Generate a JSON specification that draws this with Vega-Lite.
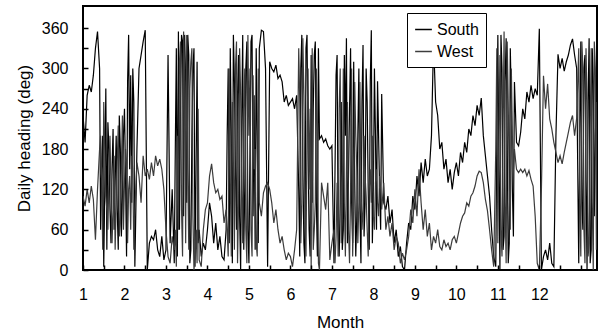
{
"$schema": "https://vega.github.io/schema/vega-lite/v6.json",
"width": 514, "height": 264,
"autosize": "none",
"padding": {"left": 83, "top": 6, "right": 3, "bottom": 66},
"background": "white",
"config": {"view": {"stroke": "black", "strokeWidth": 2}, "font": "Liberation Sans"},
"data": {"values": [
{"m":1.00,"South":230,"West":110},{"m":1.05,"South":190,"West":95},{"m":1.10,"South":260,"West":120},{"m":1.15,"South":275,"West":100},{"m":1.20,"South":265,"West":125},{"m":1.25,"South":290,"West":105},{"m":1.30,"South":330,"West":45},{"m":1.35,"South":355,"West":120},{"m":1.40,"South":300,"West":180},{"m":1.45,"South":150,"West":140},
{"m":1.50,"South":5,"West":250},{"m":1.55,"South":270,"West":110},{"m":1.60,"South":220,"West":60},{"m":1.65,"South":90,"West":200},{"m":1.70,"South":150,"West":40},{"m":1.75,"South":60,"West":170},{"m":1.80,"South":200,"West":100},{"m":1.85,"South":30,"West":215},{"m":1.90,"South":180,"West":70},{"m":1.95,"South":110,"West":230},
{"m":1.425,"South":60,"West":200},{"m":1.475,"South":200,"West":30},{"m":1.525,"South":120,"West":180},{"m":1.575,"South":30,"West":90},{"m":1.625,"South":180,"West":140},{"m":1.675,"South":40,"West":120},{"m":1.725,"South":210,"West":90},{"m":1.775,"South":130,"West":30},{"m":1.825,"South":90,"West":160},{"m":1.875,"South":230,"West":50},{"m":1.925,"South":50,"West":150},{"m":1.975,"South":200,"West":60},{"m":2.025,"South":140,"West":180},{"m":2.075,"South":280,"West":40},{"m":2.125,"South":150,"West":140},{"m":2.175,"South":100,"West":170},{"m":2.225,"South":250,"West":30},
{"m":2.00,"South":240,"West":130},{"m":2.05,"South":20,"West":160},{"m":2.10,"South":350,"West":120},{"m":2.15,"South":290,"West":60},{"m":2.20,"South":300,"West":150},{"m":2.25,"South":5,"West":90},{"m":2.30,"South":180,"West":160},{"m":2.35,"South":300,"West":140},{"m":2.40,"South":320,"West":100},{"m":2.45,"South":340,"West":170},
{"m":2.50,"South":357,"West":140},{"m":2.55,"South":0,"West":150},{"m":2.60,"South":40,"West":135},{"m":2.65,"South":50,"West":160},{"m":2.70,"South":45,"West":140},{"m":2.75,"South":60,"West":170},{"m":2.80,"South":30,"West":155},{"m":2.85,"South":20,"West":165},{"m":2.90,"South":50,"West":150},{"m":2.95,"South":15,"West":120},
{"m":3.00,"South":30,"West":60},{"m":3.05,"South":320,"West":20},{"m":3.10,"South":40,"West":10},{"m":3.15,"South":120,"West":50},{"m":3.20,"South":10,"West":30},{"m":3.25,"South":330,"West":5},{"m":3.30,"South":355,"West":60},{"m":3.35,"South":250,"West":340},{"m":3.40,"South":340,"West":20},{"m":3.45,"South":350,"West":300},
{"m":3.50,"South":100,"West":350},{"m":3.55,"South":320,"West":30},{"m":3.60,"South":30,"West":310},{"m":3.65,"South":300,"West":80},{"m":3.70,"South":5,"West":20},{"m":3.75,"South":310,"West":10},{"m":3.80,"South":60,"West":15},{"m":3.85,"South":20,"West":5},{"m":3.90,"South":40,"West":60},{"m":3.95,"South":30,"West":90},
{"m":3.225,"South":180,"West":60},{"m":3.275,"South":20,"West":200},{"m":3.325,"South":60,"West":310},{"m":3.375,"South":350,"West":90},{"m":3.425,"South":80,"West":355},{"m":3.475,"South":280,"West":40},{"m":3.525,"South":350,"West":150},{"m":3.575,"South":10,"West":270},{"m":3.625,"South":200,"West":330},{"m":3.675,"South":330,"West":0},{"m":3.725,"South":150,"West":60},{"m":3.775,"South":40,"West":240},
{"m":4.00,"South":60,"West":100},{"m":4.05,"South":100,"West":140},{"m":4.10,"South":80,"West":158},{"m":4.15,"South":40,"West":130},{"m":4.20,"South":70,"West":115},{"m":4.25,"South":30,"West":120},{"m":4.30,"South":50,"West":105},{"m":4.35,"South":20,"West":110},{"m":4.40,"South":15,"West":70},{"m":4.45,"South":60,"West":90},
{"m":4.50,"South":300,"West":20},{"m":4.55,"South":330,"West":140},{"m":4.60,"South":10,"West":250},{"m":4.65,"South":280,"West":30},{"m":4.70,"South":60,"West":340},{"m":4.75,"South":320,"West":100},{"m":4.80,"South":0,"West":260},{"m":4.85,"South":350,"West":40},{"m":4.90,"South":120,"West":300},{"m":4.95,"South":340,"West":10},
{"m":4.475,"South":200,"West":60},{"m":4.525,"South":40,"West":300},{"m":4.575,"South":200,"West":20},{"m":4.625,"South":350,"West":160},{"m":4.675,"South":150,"West":300},{"m":4.725,"South":260,"West":10},{"m":4.775,"South":80,"West":330},{"m":4.825,"South":220,"West":120},{"m":4.875,"South":30,"West":240},{"m":4.925,"South":300,"West":60},{"m":4.975,"South":60,"West":350},{"m":5.025,"South":180,"West":300},{"m":5.075,"South":350,"West":20},{"m":5.125,"South":260,"West":150},{"m":5.175,"South":330,"West":40},{"m":5.225,"South":40,"West":300},
{"m":5.00,"South":10,"West":200},{"m":5.05,"South":340,"West":60},{"m":5.10,"South":80,"West":290},{"m":5.15,"South":30,"West":180},{"m":5.20,"South":200,"West":20},{"m":5.25,"South":330,"West":100},{"m":5.30,"South":357,"West":80},{"m":5.35,"South":355,"West":115},{"m":5.40,"South":300,"West":125},{"m":5.45,"South":5,"West":130},
{"m":5.50,"South":310,"West":120},{"m":5.55,"South":300,"West":100},{"m":5.60,"South":295,"West":70},{"m":5.65,"South":305,"West":90},{"m":5.70,"South":285,"West":60},{"m":5.75,"South":290,"West":40},{"m":5.80,"South":280,"West":50},{"m":5.85,"South":250,"West":30},{"m":5.90,"South":260,"West":15},{"m":5.95,"South":245,"West":25},
{"m":6.00,"South":250,"West":20},{"m":6.05,"South":255,"West":5},{"m":6.10,"South":240,"West":30},{"m":6.15,"South":260,"West":60},{"m":6.20,"South":120,"West":330},{"m":6.25,"South":300,"West":40},{"m":6.30,"South":150,"West":345},{"m":6.35,"South":10,"West":80},{"m":6.40,"South":350,"West":200},{"m":6.45,"South":60,"West":120},
{"m":6.225,"South":20,"West":250},{"m":6.275,"South":350,"West":100},{"m":6.325,"South":40,"West":260},{"m":6.375,"South":330,"West":20},{"m":6.425,"South":180,"West":300},{"m":6.475,"South":20,"West":240},{"m":6.525,"South":100,"West":330},{"m":6.575,"South":320,"West":60},{"m":6.625,"South":100,"West":300},{"m":6.675,"South":330,"West":10},
{"m":6.50,"South":320,"West":0},{"m":6.55,"South":240,"West":30},{"m":6.60,"South":340,"West":100},{"m":6.65,"South":20,"West":200},{"m":6.70,"South":195,"West":0},{"m":6.75,"South":200,"West":130},{"m":6.80,"South":190,"West":110},{"m":6.85,"South":195,"West":90},{"m":6.90,"South":185,"West":130},{"m":6.95,"South":180,"West":15},
{"m":7.00,"South":185,"West":40},{"m":7.05,"South":10,"West":60},{"m":7.10,"South":290,"West":50},{"m":7.15,"South":60,"West":20},{"m":7.20,"South":100,"West":300},{"m":7.25,"South":30,"West":80},{"m":7.30,"South":320,"West":100},{"m":7.35,"South":345,"West":150},{"m":7.40,"South":140,"West":60},{"m":7.45,"South":330,"West":120},
{"m":7.075,"South":150,"West":10},{"m":7.125,"South":320,"West":130},{"m":7.175,"South":20,"West":240},{"m":7.225,"South":250,"West":40},{"m":7.275,"South":60,"West":300},{"m":7.325,"South":200,"West":20},{"m":7.375,"South":40,"West":250},{"m":7.425,"South":240,"West":10},{"m":7.475,"South":100,"West":300},{"m":7.525,"South":310,"West":90},{"m":7.575,"South":20,"West":200},{"m":7.625,"South":200,"West":40},{"m":7.675,"South":90,"West":280},{"m":7.725,"South":250,"West":60},{"m":7.775,"South":50,"West":200},{"m":7.825,"South":300,"West":110},{"m":7.875,"South":120,"West":20},{"m":7.925,"South":280,"West":150},{"m":7.975,"South":40,"West":200},{"m":8.025,"South":300,"West":60},{"m":8.075,"South":60,"West":150},{"m":8.125,"South":200,"West":80},{"m":8.175,"South":60,"West":120},
{"m":7.50,"South":40,"West":20},{"m":7.55,"South":130,"West":280},{"m":7.60,"South":80,"West":150},{"m":7.65,"South":300,"West":100},{"m":7.70,"South":10,"West":130},{"m":7.75,"South":335,"West":90},{"m":7.80,"South":100,"West":140},{"m":7.85,"South":250,"West":60},{"m":7.90,"South":30,"West":120},{"m":7.95,"South":357,"West":100},
{"m":8.00,"South":120,"West":80},{"m":8.05,"South":200,"West":130},{"m":8.10,"South":281,"West":100},{"m":8.15,"South":120,"West":140},{"m":8.20,"South":262,"West":90},{"m":8.25,"South":100,"West":130},{"m":8.30,"South":90,"West":60},{"m":8.35,"South":110,"West":80},{"m":8.40,"South":70,"West":50},{"m":8.45,"South":90,"West":70},
{"m":8.50,"South":40,"West":30},{"m":8.55,"South":60,"West":50},{"m":8.60,"South":20,"West":40},{"m":8.65,"South":35,"West":10},{"m":8.70,"South":5,"West":25},{"m":8.75,"South":0,"West":15},{"m":8.80,"South":40,"West":30},{"m":8.85,"South":70,"West":50},{"m":8.90,"South":60,"West":90},{"m":8.95,"South":110,"West":70},
{"m":9.00,"South":90,"West":120},{"m":9.05,"South":140,"West":80},{"m":9.10,"South":110,"West":150},{"m":9.15,"South":160,"West":100},{"m":9.20,"South":130,"West":60},{"m":9.25,"South":165,"West":90},{"m":9.30,"South":140,"West":50},{"m":9.35,"South":150,"West":70},{"m":9.40,"South":200,"West":30},{"m":9.45,"South":341,"West":50},
{"m":9.50,"South":250,"West":40},{"m":9.55,"South":230,"West":60},{"m":9.60,"South":180,"West":35},{"m":9.65,"South":190,"West":30},{"m":9.70,"South":150,"West":45},{"m":9.75,"South":165,"West":35},{"m":9.80,"South":130,"West":40},{"m":9.85,"South":150,"West":30},{"m":9.90,"South":120,"West":45},{"m":9.95,"South":145,"West":50},
{"m":10.00,"South":160,"West":40},{"m":10.05,"South":140,"West":55},{"m":10.10,"South":175,"West":70},{"m":10.15,"South":160,"West":80},{"m":10.20,"South":190,"West":85},{"m":10.25,"South":175,"West":100},{"m":10.30,"South":210,"West":95},{"m":10.35,"South":200,"West":110},{"m":10.40,"South":230,"West":115},{"m":10.45,"South":215,"West":125},
{"m":10.50,"South":245,"West":140},{"m":10.55,"South":230,"West":147},{"m":10.60,"South":256,"West":145},{"m":10.65,"South":200,"West":130},{"m":10.70,"South":170,"West":105},{"m":10.75,"South":140,"West":88},{"m":10.80,"South":110,"West":60},{"m":10.85,"South":60,"West":30},{"m":10.90,"South":20,"West":5},{"m":10.95,"South":5,"West":180},
{"m":10.975,"South":200,"West":330},{"m":11.025,"South":150,"West":200},{"m":11.075,"South":350,"West":60},{"m":11.125,"South":30,"West":200},{"m":11.175,"South":280,"West":100},{"m":11.225,"South":200,"West":340},{"m":11.275,"South":40,"West":120},{"m":11.325,"South":250,"West":300},{"m":11.375,"South":50,"West":150},
{"m":11.00,"South":350,"West":40},{"m":11.05,"South":0,"West":320},{"m":11.10,"South":300,"West":20},{"m":11.15,"South":50,"West":355},{"m":11.20,"South":345,"West":10},{"m":11.25,"South":10,"West":250},{"m":11.30,"South":330,"West":60},{"m":11.35,"South":120,"West":200},{"m":11.40,"South":280,"West":180},{"m":11.45,"South":190,"West":150},
{"m":11.50,"South":185,"West":145},{"m":11.55,"South":205,"West":150},{"m":11.60,"South":240,"West":145},{"m":11.65,"South":225,"West":150},{"m":11.70,"South":265,"West":140},{"m":11.75,"South":250,"West":148},{"m":11.80,"South":275,"West":135},{"m":11.85,"South":255,"West":125},{"m":11.90,"South":270,"West":80},{"m":11.95,"South":260,"West":10},
{"m":12.00,"South":359,"West":0},{"m":12.05,"South":0,"West":120},{"m":12.10,"South":20,"West":289},{"m":12.15,"South":30,"West":240},{"m":12.20,"South":15,"West":277},{"m":12.25,"South":40,"West":225},{"m":12.30,"South":10,"West":210},{"m":12.35,"South":5,"West":190},{"m":12.40,"South":200,"West":175},{"m":12.45,"South":321,"West":160},
{"m":12.50,"South":300,"West":170},{"m":12.55,"South":315,"West":158},{"m":12.60,"South":296,"West":175},{"m":12.65,"South":310,"West":190},{"m":12.70,"South":320,"West":205},{"m":12.75,"South":335,"West":220},{"m":12.80,"South":344,"West":230},{"m":12.85,"South":320,"West":200},{"m":12.90,"South":300,"West":226},{"m":12.95,"South":10,"West":330},
{"m":12.975,"South":200,"West":100},{"m":13.025,"South":100,"West":340},{"m":13.075,"South":300,"West":60},{"m":13.125,"South":150,"West":330},{"m":13.175,"South":250,"West":20},{"m":13.225,"South":10,"West":200},{"m":13.275,"South":330,"West":100},{"m":13.325,"South":80,"West":340},{"m":13.375,"South":250,"West":30},
{"m":13.00,"South":340,"West":20},{"m":13.05,"South":60,"West":300},{"m":13.10,"South":320,"West":10},{"m":13.15,"South":0,"West":250},{"m":13.20,"South":345,"West":40},{"m":13.25,"South":30,"West":330},{"m":13.30,"South":280,"West":0},{"m":13.35,"South":200,"West":300},{"m":13.39,"South":310,"West":250}
]},
"transform": [{"fold": ["South", "West"], "as": ["series", "v"]}],
"mark": {"type": "line", "strokeWidth": 1.2, "clip": true},
"encoding": {
  "x": {"field": "m", "type": "quantitative",
    "scale": {"domain": [1, 13.39], "nice": false, "zero": false},
    "axis": {"title": "Month", "values": [1,1.5,2,2.5,3,3.5,4,4.5,5,5.5,6,6.5,7,7.5,8,8.5,9,9.5,10,10.5,11,11.5,12,12.5,13],
      "labelExpr": "datum.value % 1 == 0 && datum.value <= 12 ? format(datum.value, 'd') : ''",
      "labelOverlap": false, "labelFlush": false, "domain": false, "grid": false,
      "offset": -5, "tickSize": 5, "tickColor": "black", "tickWidth": 1.5, "zindex": 1,
      "labelFontSize": 16, "labelColor": "black", "labelPadding": 16,
      "titleFontSize": 17, "titleFontWeight": "normal", "titleColor": "black", "titlePadding": 12}},
  "y": {"field": "v", "type": "quantitative",
    "scale": {"domain": [0, 393], "nice": false},
    "axis": {"title": "Daily heading (deg)", "values": [0,30,60,90,120,150,180,210,240,270,300,330,360],
      "labelExpr": "datum.value % 60 == 0 ? format(datum.value, 'd') : ''",
      "labelOverlap": false, "labelFlush": false, "domain": false, "grid": false,
      "offset": -5, "tickSize": 5, "tickColor": "black", "tickWidth": 1.5, "zindex": 1,
      "labelFontSize": 16, "labelColor": "black", "labelPadding": 15,
      "titleFontSize": 17, "titleFontWeight": "normal", "titleColor": "black", "titlePadding": 8}},
  "color": {"field": "series", "type": "nominal",
    "scale": {"domain": ["South", "West"], "range": ["#000000", "#3c3c3c"]},
    "legend": {"orient": "none", "legendX": 324, "legendY": 7, "title": null,
      "strokeColor": "black", "fillColor": "white", "padding": 7,
      "symbolType": "stroke", "symbolSize": 280, "symbolStrokeWidth": 1.5,
      "labelFontSize": 16, "labelColor": "black", "rowPadding": 4}}
}
}
